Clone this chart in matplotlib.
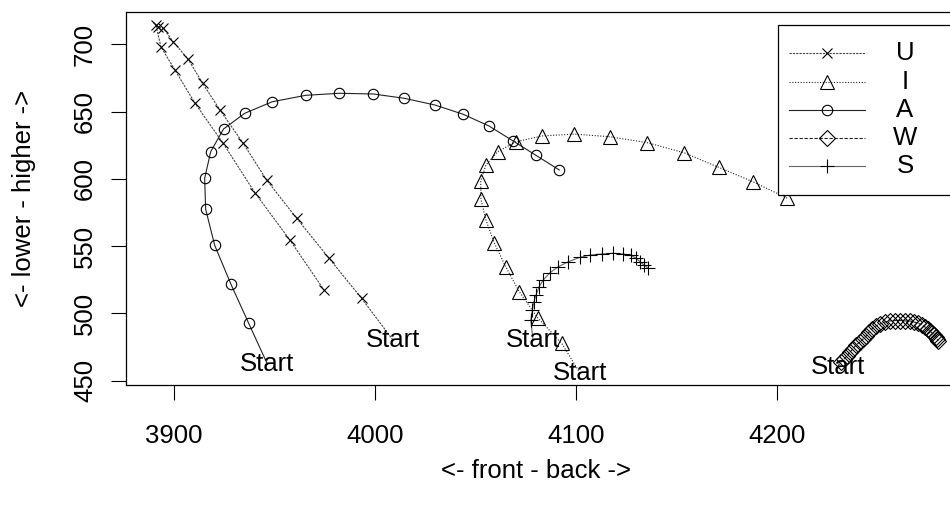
import numpy as np
import matplotlib
matplotlib.use("Agg")
import matplotlib.pyplot as plt
from matplotlib.lines import Line2D
from matplotlib.patches import Rectangle

plt.rcParams['font.family'] = ['Liberation Sans', 'DejaVu Sans']
FS = 18.5

# tongue trajectories, first point of each = "Start"
U_x = [4009.0, 3993.4, 3977.2, 3961.1, 3946.1, 3934.5, 3922.9, 3914.3, 3907.1, 3899.7,
       3894.7, 3892.2, 3891.0, 3893.5, 3900.5, 3910.5, 3924.5, 3940.3, 3957.7, 3974.7]
U_y = [480.3, 511.2, 541.0, 570.7, 599.2, 626.4, 651.2, 671.0, 688.9, 701.9,
       711.9, 713.1, 714.5, 698.2, 680.9, 656.2, 626.4, 589.7, 554.6, 517.4]

I_x = [4102.1, 4093.0, 4081.0, 4071.9, 4065.1, 4059.4, 4055.3, 4052.8, 4052.7, 4055.3,
       4061.1, 4070.2, 4083.3, 4099.3, 4117.0, 4135.6, 4153.9, 4171.1, 4188.1, 4205.3]
I_y = [455.7, 477.8, 496.8, 516.1, 534.7, 552.6, 569.4, 584.8, 598.6, 610.3,
       620.2, 627.6, 631.9, 633.3, 631.3, 626.9, 619.4, 608.6, 597.9, 585.6]

A_x = [3946.5, 3937.2, 3928.4, 3920.3, 3915.8, 3915.3, 3918.3, 3924.7, 3935.2, 3948.9,
       3965.6, 3982.1, 3999.2, 4014.6, 4029.9, 4044.0, 4056.8, 4068.6, 4080.2, 4091.8]
A_y = [462.4, 492.7, 521.6, 550.6, 577.4, 600.4, 620.2, 637.1, 648.7, 657.3,
       662.1, 663.6, 663.1, 659.9, 654.9, 648.0, 639.3, 628.4, 617.5, 606.6]

W_x = [4230.3, 4232.0, 4233.5, 4235.0, 4236.5, 4238.0, 4239.5, 4241.5, 4243.0, 4244.5,
       4246.0, 4247.4, 4249.4, 4251.4, 4253.9, 4256.4, 4258.9, 4261.4, 4263.9, 4266.4,
       4268.3, 4270.3, 4272.3, 4273.8, 4275.3, 4276.3, 4277.3, 4278.3, 4279.3, 4279.8,
       4280.3]
W_y = [460.5, 463.9, 466.1, 468.4, 471.3, 473.6, 476.5, 478.8, 481.0, 483.2,
       486.2, 488.4, 490.7, 492.1, 493.6, 494.4, 494.7, 494.7, 494.4, 494.4,
       493.6, 492.9, 491.4, 489.9, 488.4, 486.9, 485.4, 484.0, 482.5, 481.0,
       479.5]

S_x = [4078.7, 4077.6, 4078.4, 4079.2, 4080.2, 4081.8, 4083.8, 4087.2, 4091.3, 4096.3,
       4102.1, 4107.1, 4112.9, 4118.4, 4123.3, 4127.3, 4130.0, 4132.0, 4134.0, 4136.1]
S_y = [480.3, 495.1, 502.5, 508.7, 513.7, 519.9, 524.8, 530.3, 534.7, 538.4,
       541.7, 543.4, 544.2, 544.7, 544.2, 543.4, 541.0, 538.4, 536.0, 533.5]

names = ['U', 'I', 'A', 'W', 'S']
xs = [U_x, I_x, A_x, W_x, S_x]
ys = [U_y, I_y, A_y, W_y, S_y]
marks = ['x', '^', 'o', 'D', '+']
msizes = [7.5, 10, 7.5, 8.5, 10]
styles = [(0, (2, 1)), (0, (1, 1.5)), '-', (0, (3, 1.5)), '-']
lcols = ['#444444', '#222222', '#222222', '#222222', '#666666']

fig = plt.figure(figsize=(9.5, 5.07), dpi=100)
W, H = 950.0, 507.0
ax = fig.add_axes([125.7 / W, 1 - 385 / H, (975 - 125.7) / W, (385 - 12.3) / H])

for i in range(5):
    ax.plot(xs[i], ys[i], ls=styles[i], color=lcols[i], lw=0.8)
    ax.plot(xs[i][1:], ys[i][1:], ls='none', marker=marks[i], ms=msizes[i],
            mfc='none', mec='black', mew=0.8)
    ax.text(xs[i][0], ys[i][0], 'Start', ha='center', va='center', fontsize=FS)

ax.set_xlim(3876.0, 4298.7)
ax.set_ylim(446.8, 723.8)
ax.set_xticks([3900, 4000, 4100, 4200])
ax.set_yticks([450, 500, 550, 600, 650, 700])
ax.tick_params(labelsize=FS, length=10.8, width=0.8)
ax.tick_params(axis='x', pad=17)
ax.tick_params(axis='y', pad=9.8)
plt.setp(ax.get_yticklabels(), rotation=90, va='center')
for s in ax.spines.values():
    s.set_linewidth(0.9)

ax.set_xlabel('<- front - back ->', fontsize=FS)
ax.set_ylabel('<- lower - higher ->', fontsize=FS)
ax.xaxis.set_label_coords((536 - 125.7) / (975 - 125.7), (385 - 478) / (385 - 12.3))
ax.xaxis.label.set_va('baseline')
ax.yaxis.set_label_coords((31 - 125.7) / (975 - 125.7), 0.5)
ax.yaxis.label.set_va('baseline')

# legend box, drawn like R's (runs off the right edge)
fig.add_artist(Rectangle((778 / W, 1 - 195 / H), (1000 - 778) / W, 170 / H,
                         transform=fig.transFigure, facecolor='white',
                         edgecolor='black', lw=0.9, zorder=5))
rows = [53.3, 81.7, 110.0, 137.7, 166.0]
for i in range(5):
    fy = 1 - rows[i] / H
    fig.add_artist(Line2D([789 / W, 827 / W, 865 / W], [fy, fy, fy], transform=fig.transFigure,
                          ls=styles[i], color=lcols[i], lw=0.8, marker=marks[i],
                          markevery=[1], ms=msizes[i], mfc='none', mec='black',
                          mew=0.8, zorder=6))
    fig.text(905 / W, fy, names[i], ha='center', va='center', fontsize=FS, zorder=6)

fig.savefig('out.png', dpi=100)
